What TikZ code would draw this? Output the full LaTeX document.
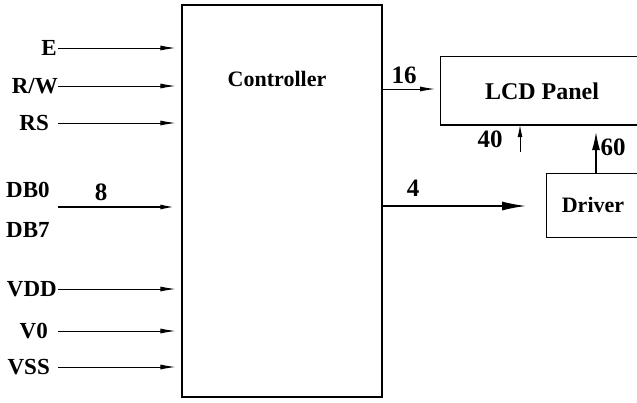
\documentclass[tikz,border=0pt]{standalone}
\usepackage{fontspec}
\setmainfont{Liberation Serif}
\usetikzlibrary{arrows.meta}
\begin{document}
\begin{tikzpicture}[x=1pt,y=-1pt,
  lbl/.style={inner sep=0pt,font=\fontsize{23}{25}\selectfont\bfseries},
  num/.style={inner sep=0pt,font=\fontsize{25}{27}\selectfont\bfseries},
  blk/.style={draw,line width=1.1pt,inner sep=0pt},
  arr/.style={line width=0.9pt,-{Latex[length=15pt,width=5pt]}},
  bigarr/.style={line width=1.4pt,-{Latex[length=24pt,width=9pt]}}]
\clip (0,0) rectangle (637,402);
\fill[white] (0,0) rectangle (637,402);
% blocks
\node[blk,minimum width=200pt,minimum height=392pt] (ctrl) at (282,201) {};
\node[lbl,font=\fontsize{22}{24}\selectfont\bfseries] (ctrltxt) at (277,79) {Controller};
\node[blk,minimum width=230pt,minimum height=68pt,anchor=north west] (lcd) at (440,56) {};
\draw[line width=1.8pt] (lcd.south west) -- (lcd.south east);
\node[lbl,font=\fontsize{24}{26}\selectfont\bfseries] (lcdtxt) at (542,91) {LCD Panel};
\node[blk,minimum width=120pt,minimum height=64pt,anchor=north west] (drv) at (546,173) {};
\node[lbl,font=\fontsize{22}{24}\selectfont\bfseries] (drvtxt) at (593,205) {Driver};
% input labels
\node[lbl,anchor=east] (E) at (57,48) {E};
\node[lbl,anchor=east] (RW) at (58,86) {R/W};
\node[lbl,anchor=east] (RS) at (49,123) {RS};
\node[lbl,anchor=west] (DB0) at (6,190) {DB0};
\node[lbl,anchor=west] (DB7) at (6,230) {DB7};
\node[lbl,anchor=east] (VDD) at (57,289) {VDD};
\node[lbl,anchor=east] (V0) at (48,331) {V0};
\node[lbl,anchor=east] (VSS) at (50,367) {VSS};
\coordinate (sE) at (58,48);
\coordinate (sRW) at (58,86);
\coordinate (sRS) at (58,123);
\coordinate (sDB) at (58,207);
\coordinate (sVDD) at (58,289);
\coordinate (sV0) at (58,331);
\coordinate (sVSS) at (58,367);
\foreach \s in {sE,sRW,sRS,sVDD,sV0,sVSS}
  \draw[arr,shorten >=6pt] (\s) -- (\s -| ctrl.west);
\draw[line width=1.8pt,-{Latex[length=15pt,width=5pt]},shorten >=6pt] (sDB) -- (sDB -| ctrl.west);
\node[num] (n8) at (101,192) {8};
% outputs
\coordinate (o16) at (382,89);
\draw[arr,shorten >=5pt] (o16) -- (o16 -| lcd.west);
\node[num] (n16) at (404,75) {16};
\coordinate (o4) at (382,206);
\draw[bigarr,shorten >=20pt] (o4) -- (o4 -| drv.west);
\node[num] (n4) at (413,188) {4};
\coordinate (s40) at (520,152);
\draw[arr,-{Latex[length=12pt,width=5pt]}] (s40) -- (s40 |- lcd.south);
\node[num] (n40) at (490,139) {40};
\coordinate (s60) at (596,173);
\draw[line width=1.2pt,-{Latex[length=18pt,width=8pt]},shorten >=7pt] (s60) -- (s60 |- lcd.south);
\node[num] (n60) at (613,147) {60};
\end{tikzpicture}
\end{document}
